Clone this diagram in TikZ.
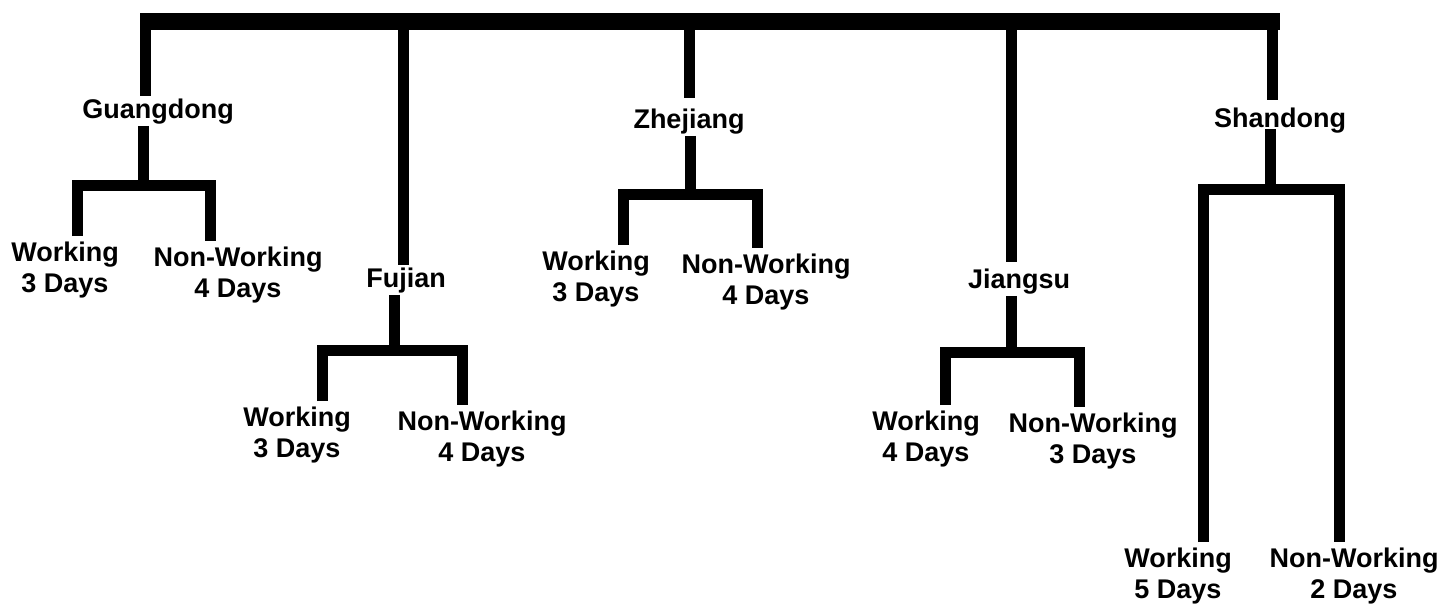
\documentclass[tikz,border=0pt]{standalone}
\usepackage{fontspec}
\setmainfont{Liberation Sans}
\tikzset{
  trunk/.style={line width=17pt},
  stem/.style={line width=11pt},
  fork/.style={line width=11pt, line join=miter},
  prov/.style={font=\fontsize{27}{31}\selectfont\bfseries, inner xsep=0pt, inner ysep=2pt, anchor=base},
  leaf/.style={font=\fontsize{27}{31}\selectfont\bfseries, align=center, inner xsep=0pt, inner ysep=6pt, anchor=north},
}
\begin{document}
\begin{tikzpicture}[x=1pt,y=-1pt]
\fill[white] (0,0) rectangle (1442,603);
\useasboundingbox (0,0) rectangle (1442,603);

% main bar
\coordinate (rootA) at (140,21.5);
\coordinate (rootB) at (1280,21.5);
\draw[trunk] (rootA) -- (rootB);

% provinces
\node[prov] (gd) at (158,118) {Guangdong};
\node[prov] (fj) at (406,287) {Fujian};
\node[prov] (zj) at (689,128) {Zhejiang};
\node[prov] (js) at (1019,288) {Jiangsu};
\node[prov] (sd) at (1280,127) {Shandong};

% drops from the main bar
\coordinate (gdT) at (145,21.5);
\coordinate (fjT) at (403.5,21.5);
\coordinate (zjT) at (689,21.5);
\coordinate (jsT) at (1011,21.5);
\coordinate (sdT) at (1272.5,21.5);
\draw[stem] (gdT) -- (gdT |- gd.north);
\draw[stem] (fjT) -- (fjT |- fj.north);
\draw[stem, shorten >=8pt] (zjT) -- (zjT |- zj.north);
\draw[stem, shorten >=4pt] (jsT) -- (jsT |- js.north);
\draw[stem, shorten >=5pt] (sdT) -- (sdT |- sd.north);

% junctions on the sub bars
\coordinate (gdJ) at (143,185);
\coordinate (fjJ) at (394.5,350.5);
\coordinate (zjJ) at (690,194);
\coordinate (jsJ) at (1011,352);
\coordinate (sdJ) at (1270,189);
\draw[stem] (gd.south -| gdJ) -- (gdJ);
\draw[stem] (fj.south -| fjJ) -- (fjJ);
\draw[stem] (zj.south -| zjJ) -- (zjJ);
\draw[stem] (js.south -| jsJ) -- (jsJ);
\draw[stem, shorten <=-6pt] (sd.south -| sdJ) -- (sdJ);

% leaves
\node[leaf] (gdW)  at (65,236)   {Working\\3 Days};
\node[leaf] (gdN)  at (238,241)  {Non-Working\\4 Days};
\node[leaf] (fjW)  at (297,401)  {Working\\3 Days};
\node[leaf] (fjN)  at (482,405)  {Non-Working\\4 Days};
\node[leaf] (zjW)  at (596,245)  {Working\\3 Days};
\node[leaf] (zjN)  at (766,248)  {Non-Working\\4 Days};
\node[leaf] (jsW)  at (926,405)  {Working\\4 Days};
\node[leaf] (jsN)  at (1093,407) {Non-Working\\3 Days};
\node[leaf] (sdW)  at (1178,542) {Working\\5 Days};
\node[leaf] (sdN)  at (1354,542) {Non-Working\\2 Days};

% sub bar ends
\coordinate (gdA) at (77,185);    \coordinate (gdB) at (210,185);
\coordinate (fjA) at (322,350.5); \coordinate (fjB) at (462,350.5);
\coordinate (zjA) at (623.5,194); \coordinate (zjB) at (757.5,194);
\coordinate (jsA) at (945,352);   \coordinate (jsB) at (1079,352);
\coordinate (sdA) at (1203,189);  \coordinate (sdB) at (1339,189);

\draw[fork] (gdA |- gdW.north) -- (gdA) -- (gdB) -- (gdB |- gdN.north);
\draw[fork] (fjA |- fjW.north) -- (fjA) -- (fjB) -- (fjB |- fjN.north);
\draw[fork] (zjA |- zjW.north) -- (zjA) -- (zjB) -- (zjB |- zjN.north);
\draw[fork] (jsA |- jsW.north) -- (jsA) -- (jsB) -- (jsB |- jsN.north);
\draw[fork] (sdA |- sdW.north) -- (sdA) -- (sdB) -- (sdB |- sdN.north);
\end{tikzpicture}
\end{document}
